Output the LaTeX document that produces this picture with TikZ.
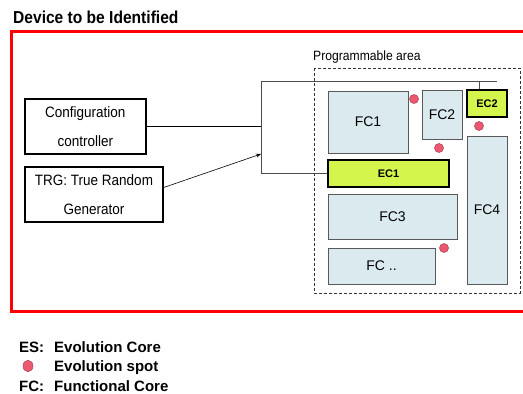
\documentclass[tikz,border=0pt]{standalone}
\usepackage{fontspec}
\setmainfont{Liberation Sans}
\newfontfamily\narrowfont[FakeStretch=0.9]{Liberation Sans}
\usetikzlibrary{arrows.meta,shapes.geometric}
\definecolor{fcfill}{RGB}{218,234,238}
\definecolor{ecfill}{RGB}{212,245,76}
\definecolor{spotfill}{RGB}{236,88,112}
\definecolor{framered}{RGB}{255,0,0}
\tikzset{
  ctlbox/.style={draw=black,line width=1.4pt,inner sep=0pt,align=center,
    font=\narrowfont\fontsize{15}{29}\selectfont},
  fcbox/.style={draw=black!65,line width=1pt,fill=fcfill,inner sep=0pt,
    font=\fontsize{14}{16}\selectfont},
  ecbox/.style={draw=black,line width=1.6pt,fill=ecfill,inner sep=0pt,
    font=\bfseries\fontsize{11}{12}\selectfont},
  spot/.style={circle,draw=spotfill!70!black,line width=0.5pt,fill=spotfill,
    minimum size=9pt,inner sep=0pt},
  wire/.style={draw=black!70,line width=1pt},
  legend/.style={anchor=base west,inner sep=0pt,font=\bfseries\fontsize{15}{17}\selectfont}
}
\begin{document}
\begin{tikzpicture}[x=1pt,y=-1pt]
	\useasboundingbox (0,0) rectangle (523,394);
	\begin{scope}
		\clip (0,0) rectangle (523,394);
		\draw[framered,line width=3pt] (11.5,31.5) rectangle (560,311);
	\end{scope}
	\node[anchor=west,inner sep=0pt,font=\narrowfont\bfseries\fontsize{17.3}{19}\selectfont] (title) at (13,17) {Device to be Identified};
	% programmable area
	\draw[densely dashed,line width=0.6pt,black!80] (314,68) rectangle (520,293);
	\node[anchor=south west,inner sep=0pt,font=\narrowfont\fontsize{13.5}{15}\selectfont] (area) at (313,63) {Programmable area};
	% controller side
	\node[ctlbox,minimum width=121pt,minimum height=55pt] (cfg) at (85.3,126.5) {Configuration\\controller};
	\node[ctlbox,minimum width=138pt,minimum height=55pt] (trg) at (94,194.5) {TRG: True Random\\Generator};
	% cores
	\node[fcbox,minimum width=80pt,minimum height=62pt] (fc1) at (368,122) {FC1};
	\node[fcbox,minimum width=40pt,minimum height=49pt] (fc2) at (442,114.5) {FC2};
	\node[ecbox,minimum width=40pt,minimum height=27pt] (ec2) at (487,103.5) {EC2};
	\node[ecbox,minimum width=121pt,minimum height=27pt] (ec1) at (388.5,173.5) {EC1};
	\node[fcbox,minimum width=40pt,minimum height=148pt] (fc4) at (487,210) {FC4};
	\node[fcbox,minimum width=129pt,minimum height=45pt] (fc3) at (392.5,216.5) {FC3};
	\node[fcbox,minimum width=107pt,minimum height=36pt] (fcn) at (381.5,266) {FC ..};
	% evolution spots
	\node[spot] (s1) at (414,99) {};
	\node[spot] (s2) at (479,126) {};
	\node[spot] (s3) at (439,148) {};
	\node[spot] (s4) at (444,248) {};
	% wiring
	\coordinate (topR) at (497,81);
	\coordinate (topL) at (261,81);
	\coordinate (botL) at (261,173.5);
	\coordinate (trgin) at (261,154);
	\draw[wire] (topR) -- (topL) -- (botL) -- (ec1.west);
	\draw[wire] ([xshift=-8pt]ec2.north) -- ([xshift=-8pt]ec2.north |- topL);
	\draw[line width=0.6pt] (cfg.east) -- (cfg.east -| topL);
	\draw[line width=0.6pt,-{Stealth[length=5pt,width=4pt]}] ([yshift=7pt]trg.east) -- (trgin);
	% legend
	\node[legend] (k1) at (19,352) {ES:};
	\node[legend] (d1) at (54,352) {Evolution Core};
	\node[ellipse,draw=spotfill!70!black,line width=0.5pt,fill=spotfill,minimum width=10pt,minimum height=11.5pt,inner sep=0pt] (k2) at (28,366) {};
	\node[legend] (d2) at (54,371.5) {Evolution spot};
	\node[legend] (k3) at (19,391) {FC:};
	\node[legend] (d3) at (54,391) {Functional Core};
\end{tikzpicture}
\end{document}
